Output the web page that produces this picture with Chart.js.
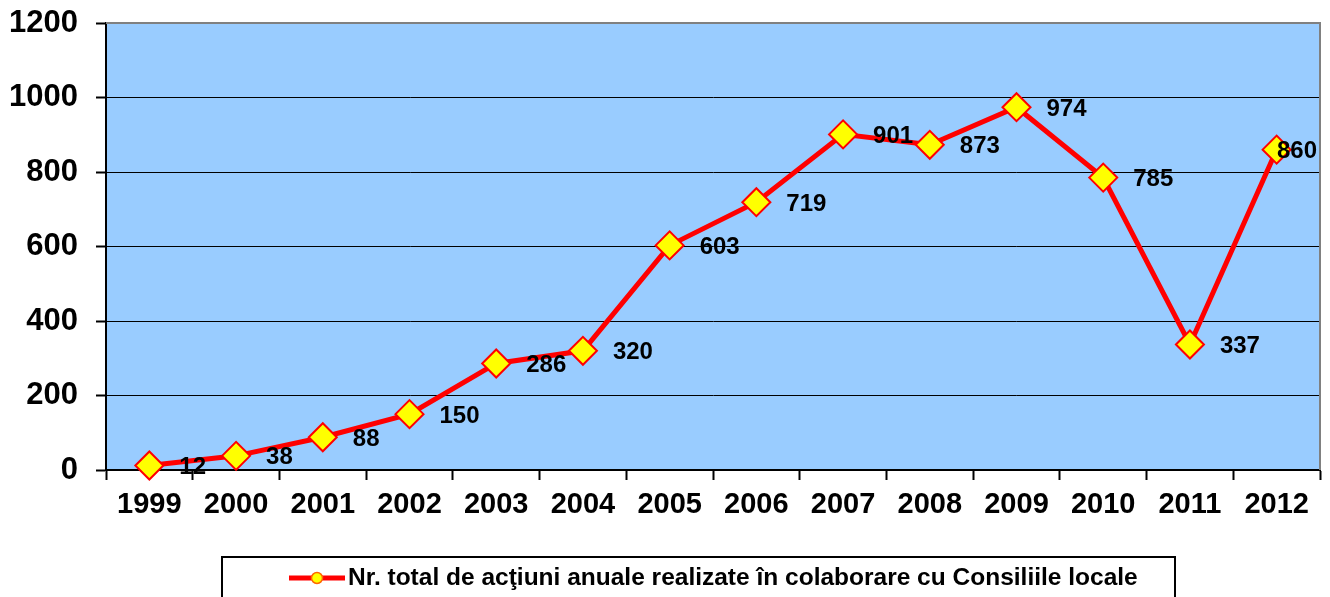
<!DOCTYPE html>
<html>
<head>
<meta charset="utf-8">
<script src="https://cdn.jsdelivr.net/npm/chart.js@4/dist/chart.umd.min.js"></script>
<style>
    html, body { margin: 0; padding: 0; background: #ffffff; }
    #wrap { width: 1330px; height: 597px; }
</style>
</head>
<body>
<div id="wrap"><canvas id="actionsChart" width="1330" height="597"></canvas></div>
<script>
const years = ["1999", "2000", "2001", "2002", "2003", "2004", "2005", "2006", "2007", "2008", "2009", "2010", "2011", "2012"];
const totalActions = [12, 38, 88, 150, 286, 320, 603, 719, 901, 873, 974, 785, 337, 860];
const yTicks = [0, 200, 400, 600, 800, 1000, 1200];
const seriesName = "Nr. total de acţiuni anuale realizate în colaborare cu Consiliile locale";

const plotBg = "#99CCFF";
const lineRed = "#FF0000";
const markerYellow = "#FFFF00";

// plot background + grey frame on top/right
const plotFrame = {
    id: "plotFrame",
    beforeDraw(chart) {
        const a = chart.chartArea;
        const ctx = chart.ctx;
        ctx.save();
        ctx.fillStyle = plotBg;
        ctx.fillRect(a.left, a.top, a.right - a.left, a.bottom - a.top);
        ctx.restore();
    },
    beforeDatasetsDraw(chart) {
        const a = chart.chartArea;
        const ctx = chart.ctx;
        ctx.save();
        ctx.strokeStyle = "#808080";
        ctx.lineWidth = 2;
        ctx.beginPath();
        ctx.moveTo(a.left, a.top);
        ctx.lineTo(a.right, a.top);
        ctx.lineTo(a.right, a.bottom);
        ctx.stroke();
        ctx.restore();
    }
};

// value labels to the right of each point
const valueLabels = {
    id: "valueLabels",
    afterDatasetsDraw(chart) {
        const ctx = chart.ctx;
        const a = chart.chartArea;
        const meta = chart.getDatasetMeta(0);
        ctx.save();
        ctx.font = "bold 24px Arial, 'Liberation Sans', sans-serif";
        ctx.fillStyle = "#000000";
        ctx.textBaseline = "middle";
        ctx.textAlign = "left";
        meta.data.forEach((pt, i) => {
            const txt = String(totalActions[i]);
            const w = ctx.measureText(txt).width;
            let x = pt.x + 30;
            if (x + w > a.right - 3) x = a.right - 3 - w;
            ctx.fillText(txt, x, pt.y + 2);
        });
        ctx.restore();
    }
};

// boxed legend at the bottom
const boxLegend = {
    id: "boxLegend",
    afterDraw(chart) {
        const ctx = chart.ctx;
        ctx.save();
        ctx.strokeStyle = "#000000";
        ctx.lineWidth = 2;
        ctx.strokeRect(222, 557, 953, 60);

        const ly = 578;
        ctx.strokeStyle = lineRed;
        ctx.lineWidth = 5;
        ctx.beginPath();
        ctx.moveTo(289, ly);
        ctx.lineTo(345, ly);
        ctx.stroke();

        ctx.fillStyle = markerYellow;
        ctx.strokeStyle = "#FF6600";
        ctx.lineWidth = 1.5;
        ctx.beginPath();
        ctx.arc(317, ly, 5.5, 0, Math.PI * 2);
        ctx.fill();
        ctx.stroke();

        ctx.font = "bold 24.5px Arial, 'Liberation Sans', sans-serif";
        ctx.fillStyle = "#000000";
        ctx.textBaseline = "middle";
        ctx.textAlign = "left";
        ctx.fillText(seriesName, 348, ly);
        ctx.restore();
    }
};

function renderChart() {
    const canvas = document.getElementById("actionsChart");
    const ctx = canvas.getContext("2d");

    new Chart(ctx, {
        type: "line",
        data: {
            labels: years,
            datasets: [{
                label: seriesName,
                data: totalActions,
                borderColor: lineRed,
                borderWidth: 5,
                backgroundColor: markerYellow,
                pointStyle: "rectRot",
                pointRadius: 14,
                pointBorderWidth: 2,
                pointBorderColor: lineRed,
                pointBackgroundColor: markerYellow,
                tension: 0,
                fill: false,
                clip: false
            }]
        },
        options: {
            responsive: false,
            animation: false,
            layout: {
                autoPadding: false,
                padding: { left: 0, top: 23, right: 10, bottom: 67 }
            },
            plugins: {
                legend: { display: false },
                tooltip: { enabled: false }
            },
            scales: {
                x: {
                    offset: true,
                    grid: {
                        offset: true,
                        drawOnChartArea: false,
                        drawTicks: true,
                        tickLength: 10,
                        tickWidth: 2,
                        tickColor: "#000000"
                    },
                    border: { display: true, color: "#000000", width: 2 },
                    ticks: {
                        color: "#000000",
                        padding: 8,
                        maxRotation: 0,
                        autoSkip: false,
                        font: { family: "Arial, 'Liberation Sans', sans-serif", size: 29, weight: "bold" }
                    },
                    afterFit(scale) {
                        scale.height = 60;
                        scale.paddingLeft = 0;
                        scale.paddingRight = 0;
                    }
                },
                y: {
                    min: 0,
                    max: 1200,
                    afterBuildTicks(scale) {
                        scale.ticks = yTicks.map(v => ({ value: v }));
                    },
                    grid: {
                        color: ctx => (ctx.tick && ctx.tick.value === 1200 ? "#808080" : "#000000"),
                        lineWidth: 1,
                        drawTicks: true,
                        tickLength: 10,
                        tickWidth: 2,
                        tickColor: "#000000"
                    },
                    border: { display: true, color: "#000000", width: 2 },
                    ticks: {
                        color: "#000000",
                        padding: 18,
                        callback: v => String(v),
                        font: { family: "Arial, 'Liberation Sans', sans-serif", size: 31, weight: "bold" }
                    },
                    afterFit(scale) {
                        scale.width = 106;
                        scale.paddingTop = 0;
                        scale.paddingBottom = 0;
                    }
                }
            }
        },
        plugins: [plotFrame, valueLabels, boxLegend]
    });
}

document.addEventListener("DOMContentLoaded", renderChart);
</script>
</body>
</html>
